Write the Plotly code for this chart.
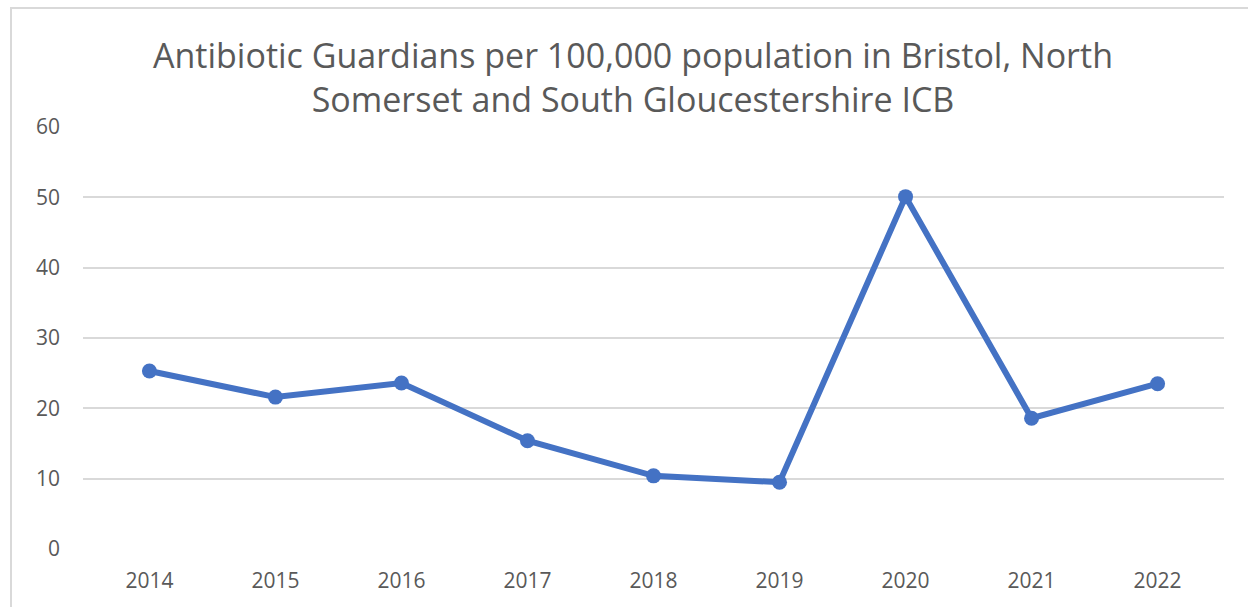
import plotly.graph_objects as go

years = ["2014", "2015", "2016", "2017", "2018", "2019", "2020", "2021", "2022"]
guardians = [25.3, 21.6, 23.6, 15.4, 10.4, 9.5, 50.1, 18.6, 23.5]
y_ticks = [0, 10, 20, 30, 40, 50, 60]

W, H = 1248, 607
L, R, T, B = 83, 24, 127, 58
pw, ph = W - L - R, H - T - B

fig = go.Figure()
fig.add_trace(go.Scatter(
    x=years, y=guardians, mode="lines+markers",
    line=dict(color="#4472C4", width=6),
    marker=dict(color="#4472C4", size=15),
    showlegend=False,
))

fig.update_layout(
    width=W, height=H,
    margin=dict(l=L, r=R, t=T, b=B),
    paper_bgcolor="white", plot_bgcolor="white",
    title=dict(
        text="Antibiotic Guardians per 100,000 population in Bristol, North<br>Somerset and South Gloucestershire ICB",
        xref="container", x=633 / W, xanchor="center", y=1 - 68 / H, yanchor="middle",
        font=dict(family="Open Sans, sans-serif", size=34, color="#595959"),
    ),
    xaxis=dict(
        type="category", showgrid=False, zeroline=False, showline=False,
        ticks="", tickfont=dict(family="Open Sans, sans-serif", size=21, color="#595959"),
        ticklabelstandoff=17,
    ),
    yaxis=dict(
        range=[0, 60], tickvals=y_ticks, showgrid=True, gridcolor="#D9D9D9", gridwidth=2,
        zeroline=False, showline=False, ticks="",
        tickfont=dict(family="Open Sans, sans-serif", size=21, color="#595959"),
        ticklabelstandoff=22,
    ),
    shapes=[dict(
        type="rect", xref="paper", yref="paper",
        x0=(11 - L) / pw, x1=(W + 20 - L) / pw,
        y0=-(B + 20) / ph, y1=(H - B - 8) / ph,
        line=dict(color="#D9D9D9", width=2), fillcolor="rgba(0,0,0,0)", layer="below",
    )],
)

fig.write_html("out.html")
